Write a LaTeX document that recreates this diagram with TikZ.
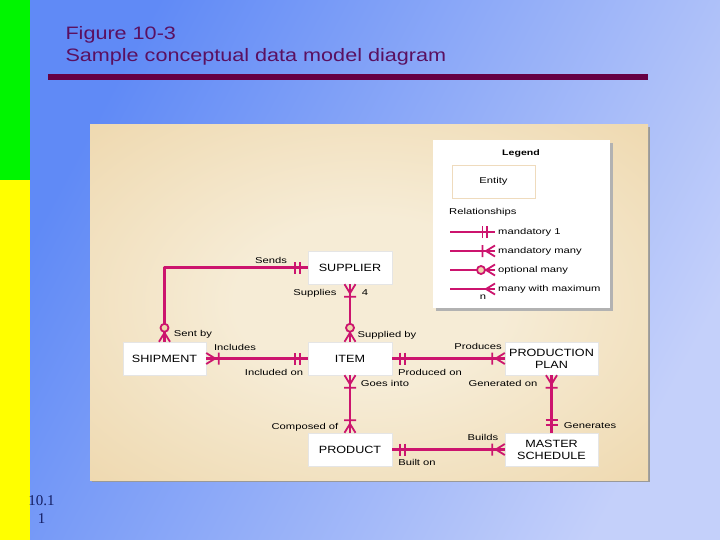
\documentclass[tikz,border=0pt]{standalone}
\usepackage{fontspec}
\setmainfont{Liberation Sans}
\newfontfamily\titlefont[FakeStretch=1.2]{Liberation Sans}
\newfontfamily\entfont[FakeStretch=1.2]{Liberation Sans}
\newfontfamily\lblfont[FakeStretch=1.32]{Liberation Sans}
\newfontfamily\pagefont{Liberation Serif}
\usepackage{xcolor}
\definecolor{erpink}{RGB}{204, 20, 110}
\definecolor{titlepurple}{RGB}{90, 16, 96}
\definecolor{barpurple}{RGB}{102, 0, 68}
\definecolor{bgleft}{RGB}{96, 138, 246}
\definecolor{bgright}{RGB}{196, 208, 250}
\definecolor{stripgreen}{RGB}{0, 245, 0}
\definecolor{stripyellow}{RGB}{255, 255, 0}
\definecolor{panelin}{RGB}{246, 236, 214}
\definecolor{panelmid}{RGB}{238, 215, 172}
\definecolor{panelout}{RGB}{224, 184, 124}
\definecolor{pagenavy}{RGB}{20, 30, 100}
\usepackage{tikz}
\usetikzlibrary{positioning, calc}

\pgfdeclareradialshading{panelglow}{\pgfpoint{0bp}{0bp}}{color(0bp)=(panelin); color(12bp)=(panelin); color(38bp)=(panelmid); color(62bp)=(panelout)}

% crow's foot end marks, drawn along +x away from the entity
\tikzset{
    crow/.pic={\draw[erpink, line width=1.8, line join=round] (0,-5.5) -- (9,0) -- (0,5.5);},
    mone/.pic={\draw[erpink, line width=1.8] (8,-6) -- (8,6) (12.5,-6) -- (12.5,6);},
    mmany/.pic={\draw[erpink, line width=1.8, line join=round] (0,-5.5) -- (9,0) -- (0,5.5) (12.5,-6) -- (12.5,6);},
    omany/.pic={\draw[erpink, line width=1.8, line join=round] (0,-5.5) -- (9,0) -- (0,5.5);
                \draw[erpink, line width=1.8, fill=panelmid] (14,0) circle (4);},
}

\begin{document}
\begin{tikzpicture}[x=1pt, y=-1pt,
    entity/.style={fill=white, draw=black!10, inner sep=0pt, minimum width=84, minimum height=33,
                   align=center, font=\entfont\fontsize{10.5}{12}\selectfont},
    lbl/.style={inner sep=0pt, font=\lblfont\fontsize{8.5}{10}\selectfont},
    erline/.style={erpink, line width=2.4, line join=round},
    legline/.style={erpink, line width=2}]

    \useasboundingbox (0,0) rectangle (720,540);

    % slide background
    \fill[stripgreen] (0,0) rectangle (30,180);
    \fill[stripyellow] (0,180) rectangle (30,540);
    \shade[top color=bgleft, bottom color=bgright, shading angle=62] (30,0) rectangle (720,540);

    \node[anchor=base west, text=titlepurple, font=\titlefont\fontsize{18}{20}\selectfont] (fignum) at (62,40) {Figure 10-3};
    \node[anchor=base west, text=titlepurple, font=\titlefont\fontsize{18}{20}\selectfont] (figtitle) at (62,62) {Sample conceptual data model diagram};
    \draw[barpurple, line width=5.5] (48,77) -- (648,77);

    \node[anchor=base, text=pagenavy, font=\pagefont\fontsize{15}{17}\selectfont] (pgnum) at (41.5,505) {10.1};
    \node[anchor=base, text=pagenavy, font=\pagefont\fontsize{15}{17}\selectfont] (pgsub) at (41.5,523) {1};

    % figure panel
    \fill[black!40] (92,127) rectangle (650,482);
    \shade[shading=panelglow] (90,125) rectangle (648,480);

    % legend
    \fill[black!30] (436,143) rectangle (613,311);
    \fill[white] (433,140) rectangle (610,308);
    \node[lbl, font=\lblfont\bfseries\fontsize{8}{10}\selectfont] (legend) at (521,153) {Legend};
    \node[entity, draw=panelout!50, minimum width=83, font=\lblfont\fontsize{8.5}{10}\selectfont] (entkey) at (493.5,181.5) {Entity};
    \node[lbl, anchor=west] (rels) at (449,212) {Relationships};

    \coordinate (k1a) at (450,232);
    \coordinate (k1b) at (495,232);
    \coordinate (k2a) at (450,251);
    \coordinate (k2b) at (495,251);
    \coordinate (k3a) at (450,270);
    \coordinate (k3b) at (495,270);
    \coordinate (k4a) at (450,289);
    \coordinate (k4b) at (495,289);
    \draw[legline] (k1a) -- (k1b);
    \draw[legline] (k2a) -- (k2b);
    \draw[legline] (k3a) -- (k3b);
    \draw[legline] (k4a) -- (k4b);
    \pic[rotate=180] at (k1b) {mone};
    \pic[rotate=180] at (k2b) {mmany};
    \pic[rotate=180] at (k3b) {omany};
    \pic[rotate=180] at (k4b) {crow};
    \node[lbl, anchor=west] (t1) at (498,232) {mandatory 1};
    \node[lbl, anchor=west] (t2) at (498,251) {mandatory many};
    \node[lbl, anchor=west] (t3) at (498,270) {optional many};
    \node[lbl, anchor=west] (t4) at (498,289) {many with maximum};
    \node[lbl] (nmax) at (483,297) {n};

    % entities
    \node[entity] (supplier) at (350,267.5) {SUPPLIER};
    \node[entity, minimum width=83] (shipment) at (164.5,358.5) {SHIPMENT};
    \node[entity] (item) at (350,358.5) {ITEM};
    \node[entity, minimum width=93] (prodplan) at (551.5,358.5) {PRODUCTION\\PLAN};
    \node[entity] (product) at (350,449.5) {PRODUCT};
    \node[entity, minimum width=93] (master) at (551.5,449.5) {MASTER\\SCHEDULE};

    % relationships
    \draw[erline] (supplier.west) -| (shipment.north);
    \draw[erline] (supplier.south) -- (item.north);
    \draw[erline] (shipment.east) -- (item.west);
    \draw[erline] (item.east) -- (prodplan.west);
    \draw[erline] (item.south) -- (product.north);
    \draw[erline] (prodplan.south) -- (master.north);
    \draw[erline] (product.east) -- (master.west);

    \pic[rotate=180] at (supplier.west) {mone};
    \pic[rotate=90] at (shipment.north) {omany};
    \pic[rotate=-90] at (supplier.south) {mmany};
    \pic[rotate=90] at (item.north) {omany};
    \pic at (shipment.east) {mmany};
    \pic[rotate=180] at (item.west) {mone};
    \pic at (item.east) {mone};
    \pic[rotate=180] at (prodplan.west) {mmany};
    \pic[rotate=-90] at (item.south) {mmany};
    \pic[rotate=90] at (product.north) {mmany};
    \pic[rotate=-90] at (prodplan.south) {mmany};
    \pic[rotate=90] at (master.north) {mone};
    \pic at (product.east) {mone};
    \pic[rotate=180] at (master.west) {mmany};

    % role names
    \node[lbl] (lsends) at (271,260) {Sends};
    \node[lbl] (lsentby) at (193,334) {Sent by};
    \node[lbl] (lincl) at (235,347) {Includes};
    \node[lbl] (linclon) at (274,372) {Included on};
    \node[lbl] (lsupp) at (315,293) {Supplies};
    \node[lbl] (lfour) at (365,293) {4};
    \node[lbl] (lsuppby) at (387,335) {Supplied by};
    \node[lbl] (lprod) at (478,346) {Produces};
    \node[lbl] (lprodon) at (430,372) {Produced on};
    \node[lbl] (lgoes) at (385,383) {Goes into};
    \node[lbl] (lgenon) at (503,383) {Generated on};
    \node[lbl] (lcomp) at (305,427) {Composed of};
    \node[lbl] (lgen) at (590,426) {Generates};
    \node[lbl] (lbuilds) at (483,437) {Builds};
    \node[lbl] (lbuilt) at (417,462) {Built on};
\end{tikzpicture}
\end{document}
